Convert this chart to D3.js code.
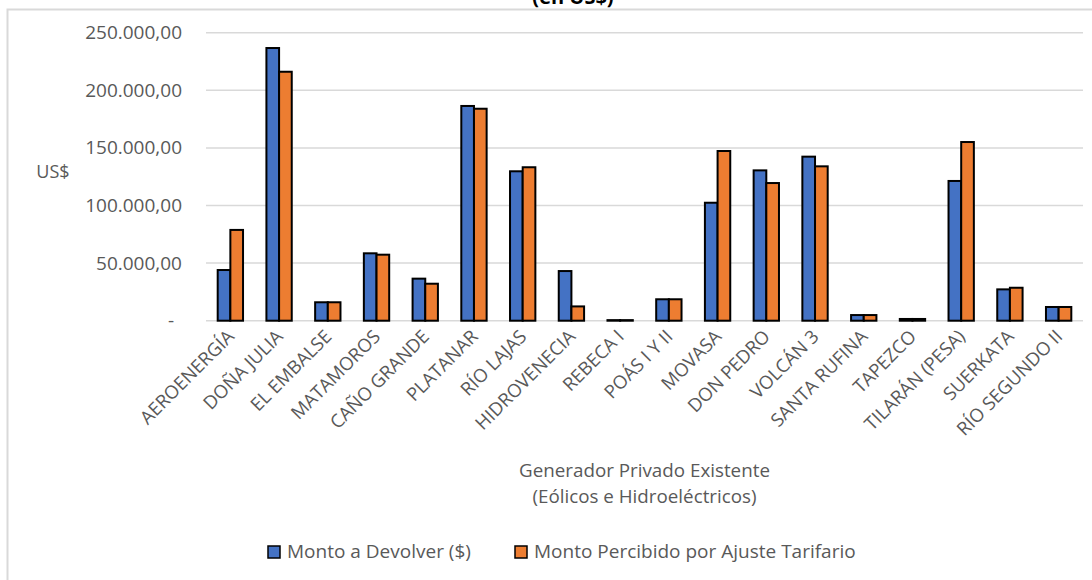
<!DOCTYPE html>
<html>
<head>
<meta charset="utf-8">
<script src="https://cdn.jsdelivr.net/npm/d3@7"></script>
<style>
  html, body { margin: 0; padding: 0; background: #fff; }
  svg { display: block; }
  text { font-family: "Open Sans", "Noto Sans", sans-serif; }
</style>
</head>
<body>
<svg id="chart" width="1092" height="580"></svg>
<script>
const categories = ["AEROENERGÍA","DOÑA JULIA","EL EMBALSE","MATAMOROS","CAÑO GRANDE","PLATANAR","RÍO LAJAS","HIDROVENECIA","REBECA I","POÁS I Y II","MOVASA","DON PEDRO","VOLCÁN 3","SANTA RUFINA","TAPEZCO","TILARÁN (PESA)","SUERKATA","RÍO SEGUNDO II"];
const montoDevolver = [44000,236700,16000,58500,36500,186400,129700,43100,500,18600,102400,130500,142400,4900,1500,121300,27200,11900];
const montoPercibido = [78800,216100,16000,57300,32100,184000,133200,12400,500,18600,147300,119500,134000,4900,1500,155100,28600,11900];
const seriesNames = ["Monto a Devolver ($)","Monto Percibido por Ajuste Tarifario"];
const yTicks = [0,50000,100000,150000,200000,250000];
const titleText = "(en US$)";
const yAxisTitle = "US$";
const xAxisTitle = ["Generador Privado Existente","(Eólicos e Hidroeléctricos)"];

const colors = ["#4472C4","#ED7D31"];
const svg = d3.select("#chart");

// chart border (partially cropped)
svg.append("path")
  .attr("d","M7.5,600 L7.5,9.5 L1100,9.5")
  .attr("fill","none").attr("stroke","#d9d9d9").attr("stroke-width",2);

// title (cropped at top in the reference)
svg.append("text").attr("x",573).attr("y",4).attr("text-anchor","middle")
  .attr("font-size",20).attr("font-weight","bold").attr("fill","#000").text(titleText);

const plotL = 206, plotR = 1083;
const y = d3.scaleLinear().domain([0,250000]).range([320.7,32.7]);
const x = d3.scaleBand().domain(categories).range([plotL,plotR]).paddingInner(0.48).paddingOuter(0.24);
const xs = d3.scaleBand().domain([0,1]).range([0,x.bandwidth()]);

const loc = d3.formatLocale({decimal:",", thousands:".", grouping:[3], currency:["$",""]});
const fmt = loc.format(",.2f");

// gridlines
svg.append("g").selectAll("line").data(yTicks).join("line")
  .attr("x1",plotL).attr("x2",plotR)
  .attr("y1",d=>y(d)).attr("y2",d=>y(d))
  .attr("stroke","#d9d9d9").attr("stroke-width",1.5);

// y axis labels via d3 axis
const yAxis = d3.axisLeft(y).tickValues(yTicks).tickSize(0).tickPadding(0)
  .tickFormat(d => d === 0 ? "-" : fmt(d));
const yg = svg.append("g").attr("transform","translate(182,0)").call(yAxis);
yg.select(".domain").remove();
yg.selectAll("text").attr("font-size",19).attr("fill","#595959")
  .attr("font-family","'Open Sans', sans-serif");
yg.selectAll(".tick").filter(d=>d===0).select("text").attr("dx",-8);

// bars
const series = [montoDevolver, montoPercibido];
series.forEach((vals, si) => {
  svg.append("g").selectAll("rect").data(vals).join("rect")
    .attr("x",(d,i)=>x(categories[i]) + xs(si))
    .attr("width",xs.bandwidth())
    .attr("y",d=>y(d))
    .attr("height",d=>y(0)-y(d))
    .attr("fill",colors[si]).attr("stroke","#000").attr("stroke-width",2);
});

// x labels
const xAxis = d3.axisBottom(x).tickSize(0).tickPadding(0);
const xg = svg.append("g").attr("transform",`translate(0,${y(0)})`).call(xAxis);
xg.select(".domain").remove();
xg.selectAll("text")
  .attr("font-size",18.5).attr("fill","#595959")
  .attr("font-family","'Open Sans', sans-serif")
  .attr("text-anchor","end")
  .attr("dy",null).attr("y",0)
  .attr("transform","translate(5,17) rotate(-45)");

// y axis title
svg.append("text").attr("x",53).attr("y",178).attr("text-anchor","middle")
  .attr("font-size",18).attr("fill","#595959").text(yAxisTitle);

// x axis title
xAxisTitle.forEach((t,i)=>{
  svg.append("text").attr("x",(plotL+plotR)/2).attr("y",477 + i*26).attr("text-anchor","middle")
    .attr("font-size",18.8).attr("fill","#595959").text(t);
});

// legend
const legendItems = [{x:268, name:seriesNames[0], c:colors[0]},{x:515, name:seriesNames[1], c:colors[1]}];
const lg = svg.append("g");
legendItems.forEach(it=>{
  lg.append("rect").attr("x",it.x).attr("y",546).attr("width",12).attr("height",12)
    .attr("fill",it.c).attr("stroke","#000").attr("stroke-width",1.5);
  lg.append("text").attr("x",it.x+19).attr("y",558).attr("font-size",19).attr("fill","#595959").text(it.name);
});
</script>
</body>
</html>
